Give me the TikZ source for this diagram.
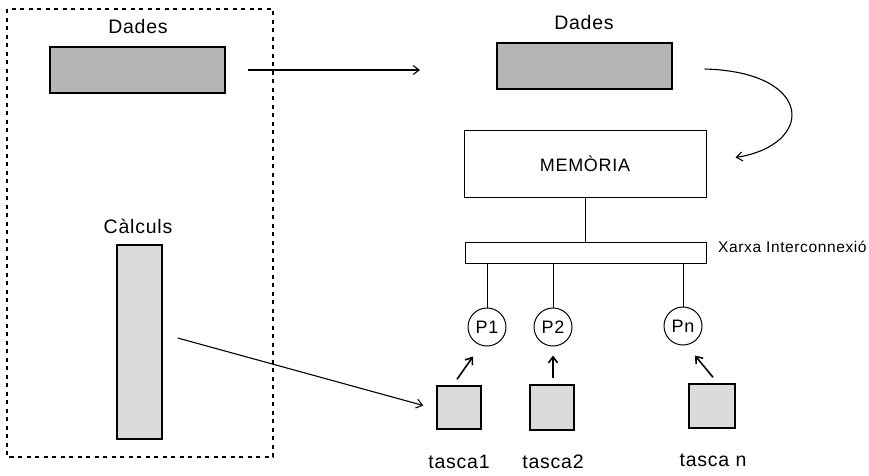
\documentclass[tikz,border=0pt]{standalone}
\usepackage{fontspec}
\setmainfont{Liberation Sans}[LetterSpace=4]
\usetikzlibrary{arrows.meta}
\tikzset{
  lbl/.style={inner sep=0pt, font=\fontsize{19.5}{21}\selectfont},
  small/.style={inner sep=0pt, font=\fontsize{15.5}{17}\selectfont},
  darkbar/.style={draw, line width=1.4pt, fill=gray!58, inner sep=0pt},
  lightbox/.style={draw, line width=1.4pt, fill=gray!28, inner sep=0pt},
  plainbox/.style={draw, line width=1pt, inner sep=0pt},
  proc/.style={draw, circle, line width=1pt, minimum size=38pt, inner sep=0pt, font=\fontsize{18}{20}\selectfont},
  link/.style={line width=1pt},
  arr/.style={line width=1.1pt, -{Straight Barb[length=6pt,width=9pt]}},
  shortarr/.style={line width=1.6pt, -{Straight Barb[length=6pt,width=9pt]}},
}
\begin{document}
\begin{tikzpicture}[x=1pt, y=-1pt]
\useasboundingbox (0,0) rectangle (869,475);

% sequential program: data and computation, framed
\draw[line width=1.3pt, dash pattern=on 4pt off 4.5pt] (7,9) rectangle (273,457);
\node[lbl] (dadesA) at (138,27) {Dades};
\node[darkbar, minimum width=175pt, minimum height=46pt] (barA) at (137.5,70) {};
\node[lbl] (calc) at (138,226) {Càlculs};
\node[lightbox, minimum width=45pt, minimum height=194pt] (calcbar) at (139.5,342) {};

% parallel machine
\node[lbl] (dadesB) at (584,23) {Dades};
\node[darkbar, minimum width=175pt, minimum height=46pt] (barB) at (584.5,66) {};
\node[plainbox, minimum width=242pt, minimum height=67pt] (mem) at (585,163.5)
  {\fontsize{18}{20}\selectfont MEMÒRIA};
\node[plainbox, minimum width=241pt, minimum height=21pt] (net) at (585.5,252.5) {};
\node[small, anchor=west] (netlbl) at (718,247) {Xarxa Interconnexió};

\node[proc] (p1) at (487,327) {P1};
\node[proc] (p2) at (553,327) {P2};
\node[proc] (pn) at (683,326) {Pn};

\node[lightbox, minimum width=44pt, minimum height=43pt] (t1) at (459,407.5) {};
\node[lightbox, minimum width=44pt, minimum height=45pt] (t2) at (552,407.5) {};
\node[lightbox, minimum width=46pt, minimum height=44pt] (tn) at (712,406) {};

\node[lbl] (t1lbl) at (459,462) {tasca1};
\node[lbl] (t2lbl) at (553,462) {tasca2};
\node[lbl] (tnlbl) at (713,460) {tasca n};

% connections
\draw[link] (mem.south) -- (net.north -| mem.south);
\draw[link] (net.south -| p1) -- (p1.north);
\draw[link] (net.south -| p2) -- (p2.north);
\draw[link] (net.south -| pn) -- (pn.north);

% data flow
\coordinate (dA) at ([xshift=22pt]barA.east);
\coordinate (dB) at (420,70);
\draw[arr] (dA) -- (dB);
\coordinate (cA) at ([xshift=15pt,yshift=4pt]calcbar.east);
\coordinate (cB) at ([xshift=-13pt,yshift=2pt]t1.west);
\draw[arr] (cA) -- (cB);
\coordinate (mA) at ([xshift=32pt,yshift=-3pt]barB.east);
\coordinate (mB) at ([xshift=29pt,yshift=6pt]mem.east);
\draw[arr] (mA) .. controls (815,72) and (815,145) .. (mB);

% tasks assigned to processors
\coordinate (a1) at ([xshift=-2pt,yshift=6pt]t1.north);
\coordinate (b1) at ([xshift=-14pt,yshift=-10pt]p1.south);
\draw[shortarr] (a1) -- (b1);
\coordinate (a2) at ([xshift=1pt,yshift=6pt]t2.north);
\coordinate (b2) at ([yshift=-9pt]p2.south);
\draw[shortarr] (a2) -- (b2);
\coordinate (an) at ([xshift=1pt,yshift=6pt]tn.north);
\coordinate (bn) at ([xshift=12pt,yshift=-10pt]pn.south);
\draw[shortarr] (an) -- (bn);
\end{tikzpicture}
\end{document}
